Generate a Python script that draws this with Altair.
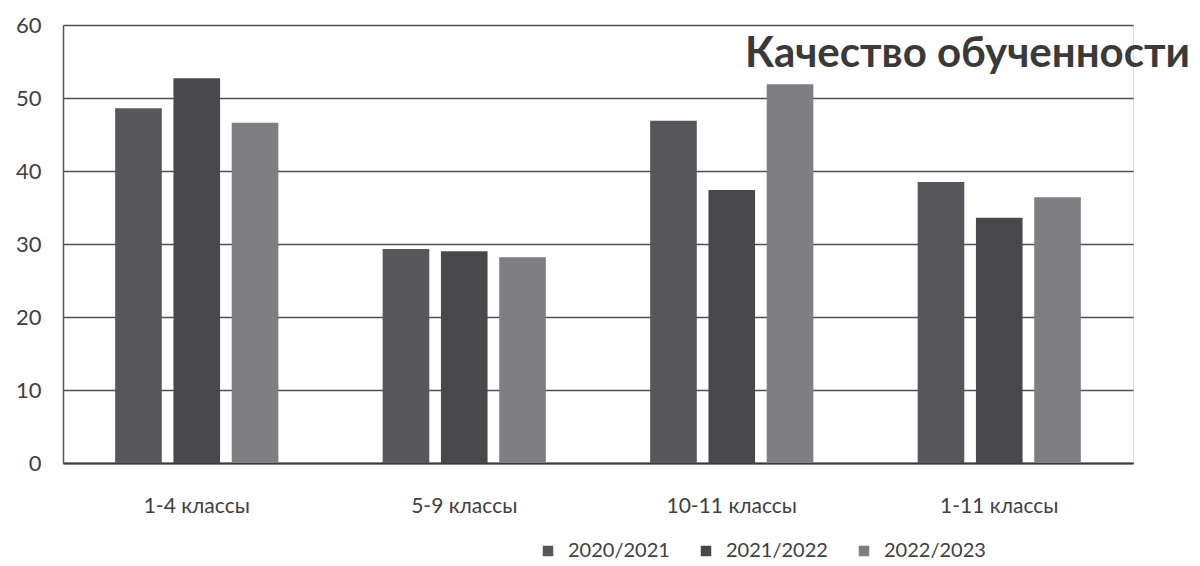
import altair as alt
import pandas as pd

categories = ["1-4 классы", "5-9 классы", "10-11 классы", "1-11 классы"]
years = ["2020/2021", "2021/2022", "2022/2023"]
s2020 = [48.6, 29.3, 46.9, 38.5]
s2021 = [52.7, 29.0, 37.4, 33.6]
s2022 = [46.6, 28.2, 51.9, 36.4]
y_ticks = [0, 10, 20, 30, 40, 50, 60]
colors = ["#56565b", "#48484c", "#7e7e83"]

rows = []
for series_name, vals in zip(years, [s2020, s2021, s2022]):
    for c, v in zip(categories, vals):
        rows.append({"cat": c, "year": series_name, "value": v})
df = pd.DataFrame(rows)

FONT = "Lato"

bars = alt.Chart(df).mark_bar().encode(
    x=alt.X("cat:N", sort=categories,
            scale=alt.Scale(paddingInner=0.39, paddingOuter=0.195),
            axis=alt.Axis(title=None, labelAngle=0, ticks=False, domain=True,
                          domainColor="#3a3a3a", domainWidth=2,
                          labelFont=FONT, labelFontSize=21, labelColor="#404040",
                          labelPadding=32, labelBaseline="top")),
    xOffset=alt.XOffset("year:N", sort=years,
                        scale=alt.Scale(paddingInner=0.2, paddingOuter=0)),
    y=alt.Y("value:Q", scale=alt.Scale(domain=[0, 60], nice=False),
            axis=alt.Axis(title=None, values=y_ticks, ticks=False,
                          domain=True, domainColor="#555555", domainWidth=1.5,
                          grid=True, gridColor="#505050", gridWidth=1.5,
                          labelFont=FONT, labelFontSize=22, labelColor="#404040",
                          labelPadding=22)),
    color=alt.Color("year:N", sort=years,
                    scale=alt.Scale(domain=years, range=colors),
                    legend=alt.Legend(title=None, orient="none", direction="horizontal",
                                      legendX=475, legendY=516, padding=0,
                                      symbolType="square", symbolSize=110,
                                      symbolStrokeWidth=0,
                                      labelFont=FONT, labelFontSize=20,
                                      labelColor="#404040", labelOffset=10,
                                      columnPadding=26)),
)

chart = bars.properties(
    width=1070,
    height=438,
    autosize=alt.AutoSizeParams(type="none"),
    padding={"left": 55, "top": 17, "right": 59, "bottom": 101},
    title=alt.TitleParams(
        text="Качество обученности",
        anchor="end", frame="group", orient="top",
        font=FONT, fontSize=42, fontWeight="bold", color="#3a3a3a",
        dx=57, dy=62, offset=0,
    ),
).configure_view(stroke=None).configure(background="white")

chart.save("out.html", embed_options={"renderer": "svg", "actions": False})
